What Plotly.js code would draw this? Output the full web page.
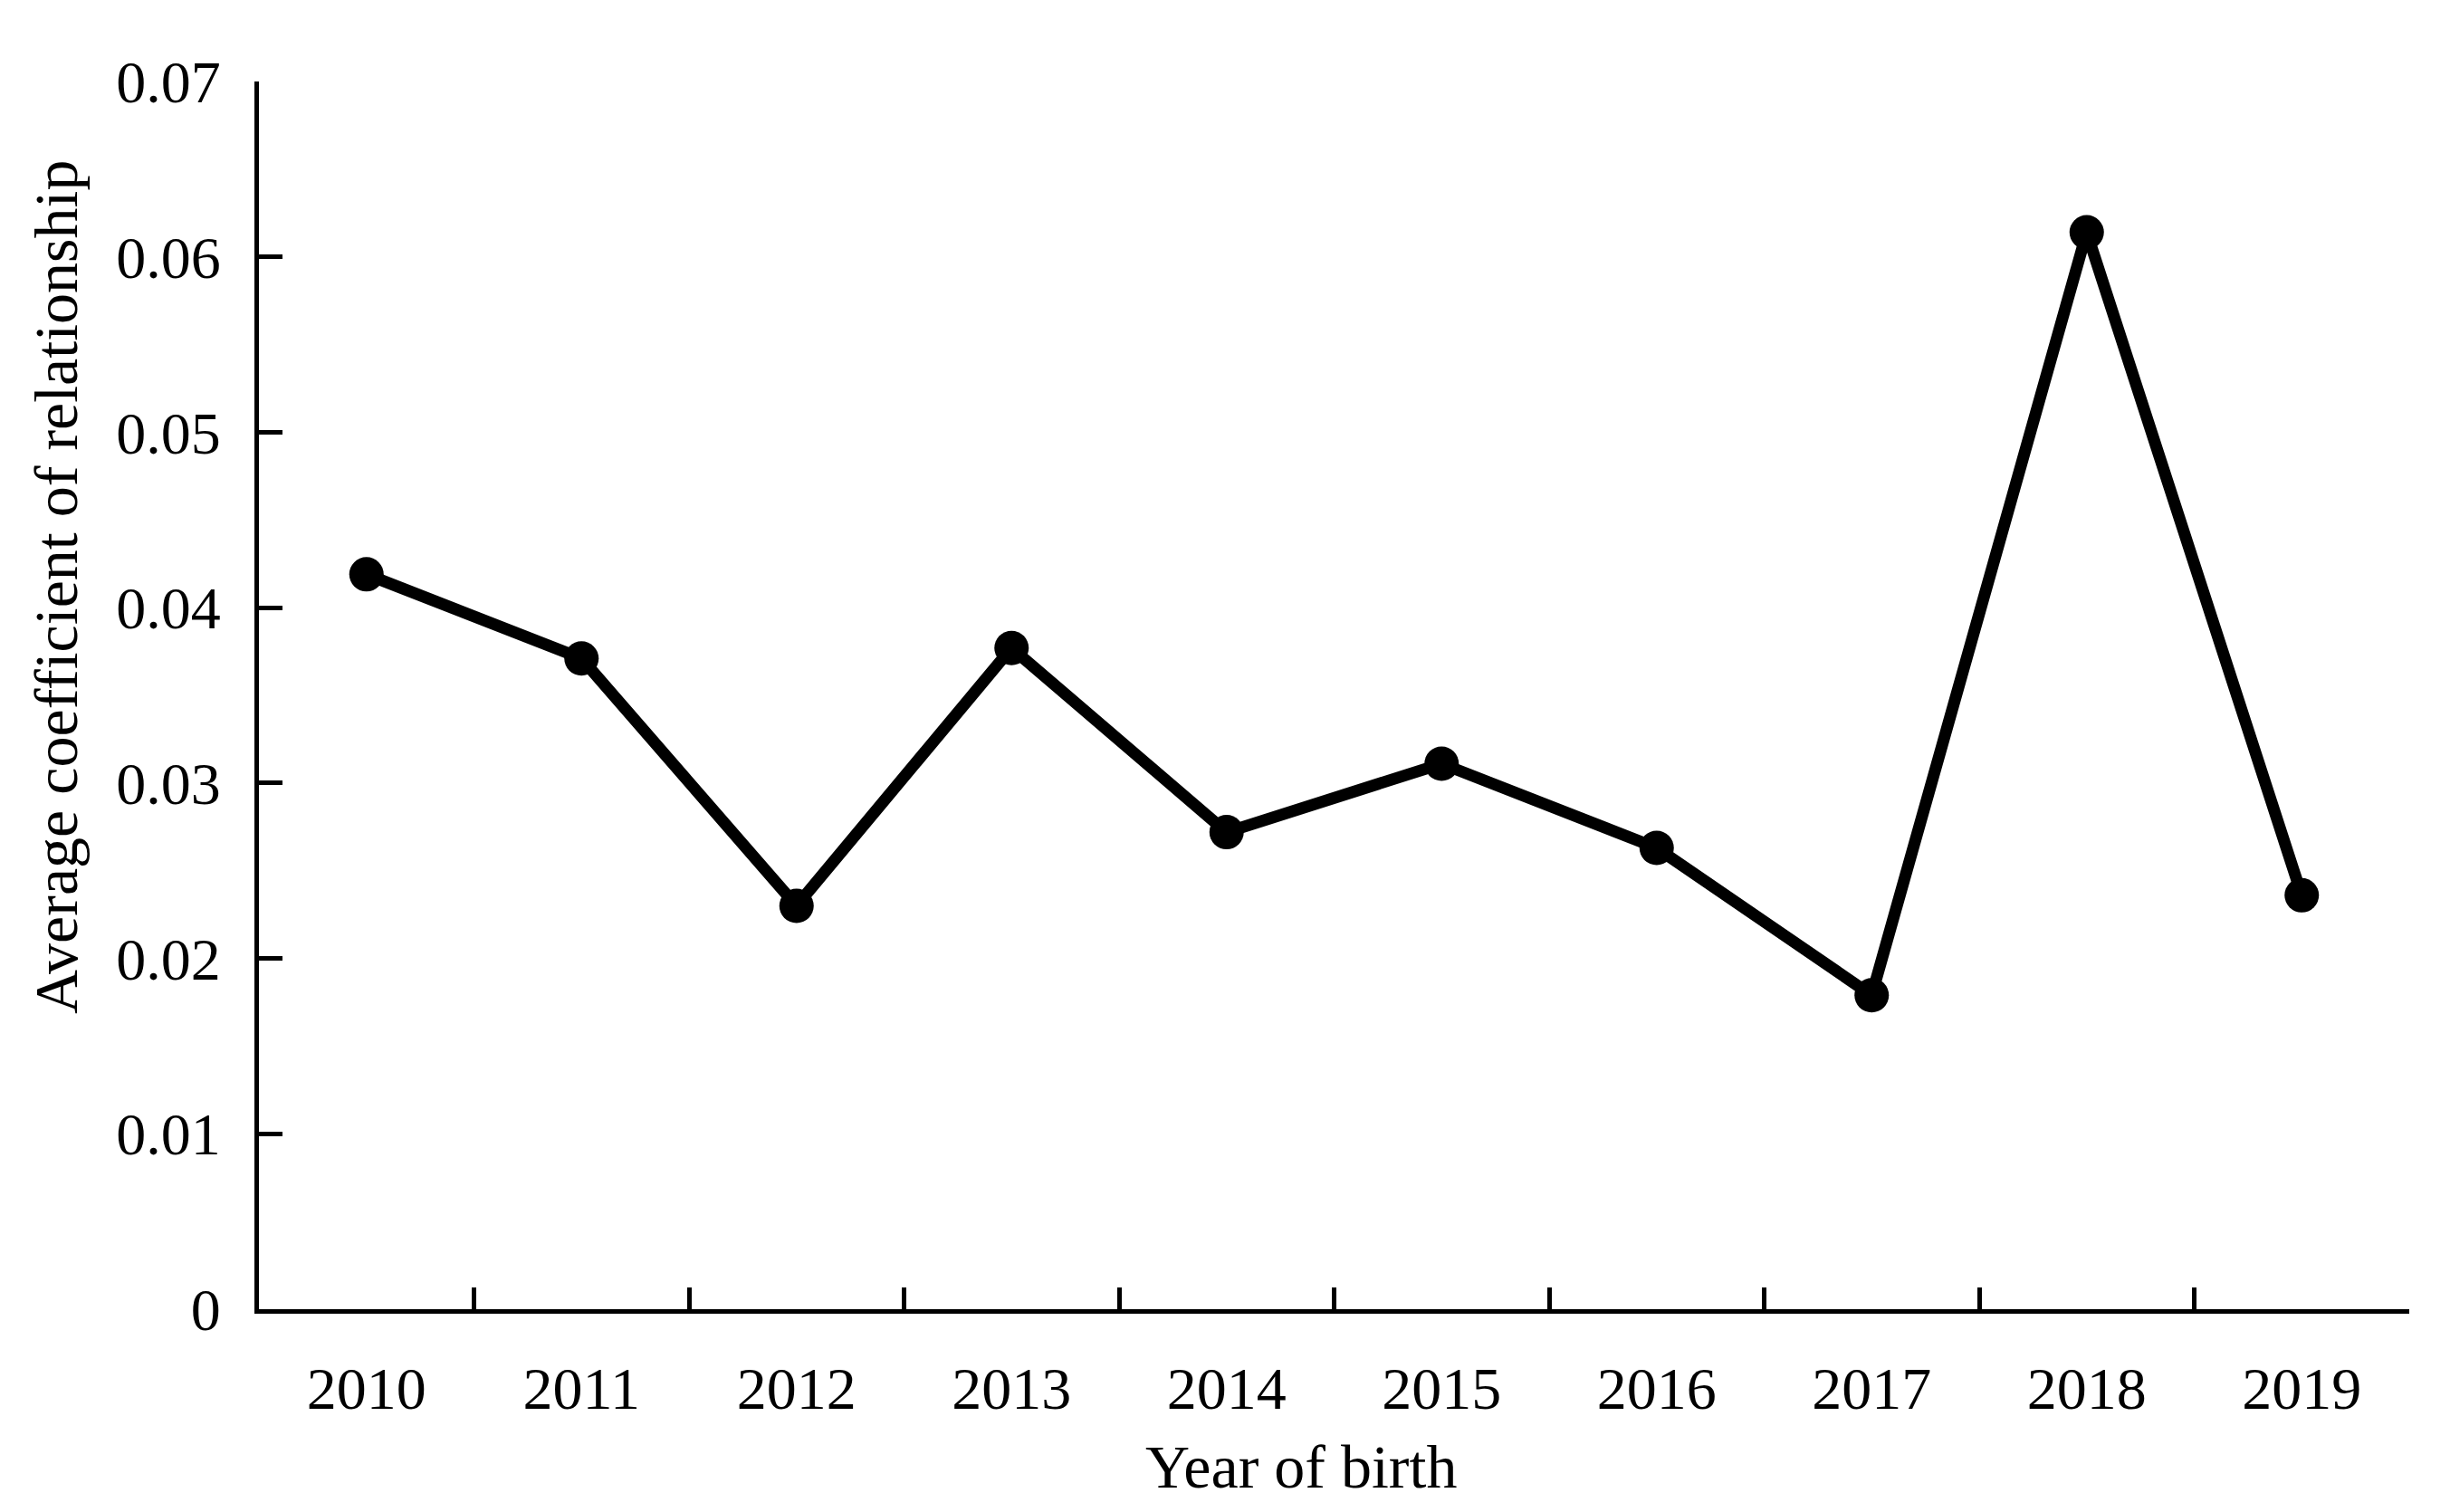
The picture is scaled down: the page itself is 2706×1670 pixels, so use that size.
<!DOCTYPE html>
<html>
<head>
<meta charset="utf-8">
<script src="https://cdn.plot.ly/plotly-3.0.1.min.js"></script>
<style>html,body{margin:0;padding:0;background:#fff;}#chart{width:2706px;height:1670px;}</style>
</head>
<body>
<div id="chart"></div>
<script>
const years = ["2010","2011","2012","2013","2014","2015","2016","2017","2018","2019"];
const avgCoefficient = [0.0419, 0.0371, 0.0230, 0.0377, 0.0272, 0.0311, 0.0263, 0.0179, 0.0614, 0.0236];
const yTickValues = [0, 0.01, 0.02, 0.03, 0.04, 0.05, 0.06, 0.07];
const yTickLabels = ["0", "0.01", "0.02", "0.03", "0.04", "0.05", "0.06", "0.07"];
const xTitle = 'Year of birth';
const yTitle = 'Average coefficient of relationship';

const fontFamily = '"Liberation Serif", "Times New Roman", serif';

const trace = {
  x: years,
  y: avgCoefficient,
  type: 'scatter',
  mode: 'lines+markers',
  line: {color: '#000', width: 13},
  marker: {color: '#000', size: 38},
  hoverinfo: 'none',
  showlegend: false
};

const layout = {
  width: 2706,
  height: 1670,
  paper_bgcolor: '#fff',
  plot_bgcolor: '#fff',
  margin: {l: 286, r: 45, t: 90, b: 224, autoexpand: false},
  font: {family: fontFamily, color: '#000', size: 66},
  showlegend: false,
  xaxis: {
    type: 'category',
    range: [-0.5, 9.5],
    tickson: 'boundaries',
    ticks: 'inside',
    ticklen: 24,
    tickwidth: 5,
    tickcolor: '#000',
    showline: true,
    linecolor: '#000',
    linewidth: 5,
    showgrid: false,
    zeroline: false,
    automargin: false,
    ticklabelstandoff: 26,
    tickfont: {family: fontFamily, size: 66, color: '#000'}
  },
  yaxis: {
    range: [0, 0.07],
    tickvals: yTickValues,
    ticktext: yTickLabels,
    ticks: 'inside',
    ticklen: 26,
    tickwidth: 5,
    tickcolor: '#000',
    showline: true,
    linecolor: '#000',
    linewidth: 5,
    showgrid: false,
    zeroline: false,
    automargin: false,
    ticklabelstandoff: 24,
    tickfont: {family: fontFamily, size: 66, color: '#000'}
  },
  annotations: [
    {text: xTitle, xref: 'paper', yref: 'paper', x: 0.4846, y: -0.128,
     xanchor: 'center', yanchor: 'middle', showarrow: false,
     font: {family: fontFamily, size: 68, color: '#000'}},
    {text: yTitle, xref: 'paper', yref: 'paper', x: -0.0943, y: 0.5878,
     xanchor: 'center', yanchor: 'middle', showarrow: false, textangle: -90,
     font: {family: fontFamily, size: 68, color: '#000'}}
  ]
};

Plotly.newPlot('chart', [trace], layout, {displayModeBar: false, staticPlot: true});
</script>
</body>
</html>
